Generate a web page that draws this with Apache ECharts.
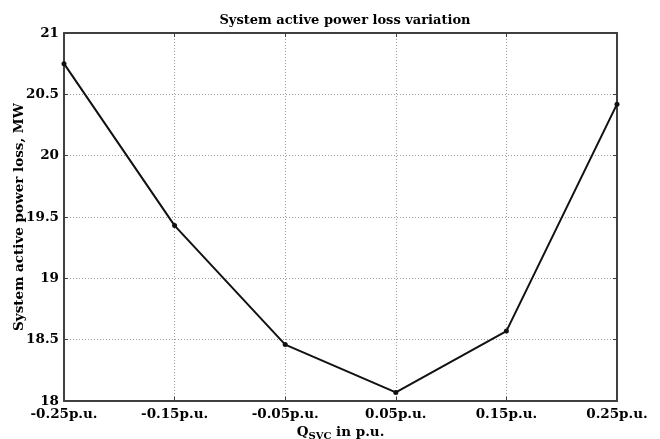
<!DOCTYPE html>
<html>
<head>
<meta charset="utf-8">
<script src="https://cdn.jsdelivr.net/npm/echarts@6/dist/echarts.min.js"></script>
<style>
  html, body { margin: 0; padding: 0; background: #fff; }
  #chart { width: 660px; height: 439px; }
</style>
</head>
<body>
<div id="chart"></div>
<script>
var categories = ['-0.25p.u.', '-0.15p.u.', '-0.05p.u.', '0.05p.u.', '0.15p.u.', '0.25p.u.'];
var lossValues = [20.75, 19.43, 18.46, 18.07, 18.57, 20.42];
var yTicks = [18, 18.5, 19, 19.5, 20, 20.5, 21];

var font = 'DejaVu Serif';
var chart = echarts.init(document.getElementById('chart'));

var gridLine = { show: true, lineStyle: { color: '#9a9a9a', type: [1, 2], width: 1 } };

var option = {
    backgroundColor: '#fff',
    animation: false,
    title: {
        text: 'System active power loss variation',
        left: 340, top: 9, textAlign: 'center',
        textStyle: { fontFamily: font, fontWeight: 'bold', fontSize: 13, color: '#000' }
    },
    grid: { left: 64, right: 43, top: 33, bottom: 38, outerBoundsMode: 'none', containLabel: false },
    xAxis: [{
        type: 'category',
        data: categories,
        boundaryGap: false,
        axisLine: { lineStyle: { color: '#404040', width: 2 } },
        axisTick: { inside: true, length: 4, lineStyle: { color: '#404040' } },
        axisLabel: { fontFamily: font, fontWeight: 'bold', fontSize: 13.5, color: '#000', margin: 6 },
        splitLine: gridLine,
        name: '{q|Q}{s|SVC}{q| in p.u.}',
        nameLocation: 'middle',
        nameGap: 21,
        nameTextStyle: {
            rich: {
                q: { fontFamily: font, fontWeight: 'bold', fontSize: 13.5, color: '#000' },
                s: { fontFamily: font, fontWeight: 'bold', fontSize: 10, color: '#000', verticalAlign: 'bottom', padding: [7, 0, 0, 0] }
            }
        }
    }, {
        type: 'category',
        data: categories,
        position: 'top',
        boundaryGap: false,
        axisLine: { lineStyle: { color: '#404040', width: 2 } },
        axisTick: { inside: true, length: 4, lineStyle: { color: '#404040' } },
        axisLabel: { show: false }
    }],
    yAxis: [{
        type: 'value',
        min: yTicks[0], max: yTicks[yTicks.length - 1], interval: 0.5,
        axisLine: { show: true, lineStyle: { color: '#404040', width: 2 } },
        axisTick: { show: true, inside: true, length: 4, lineStyle: { color: '#404040' } },
        axisLabel: { fontFamily: font, fontWeight: 'bold', fontSize: 13.5, color: '#000', margin: 5 },
        splitLine: gridLine,
        name: 'System active power loss, MW',
        nameLocation: 'middle',
        nameMoveOverlap: false,
        nameGap: 38,
        nameTextStyle: { fontFamily: font, fontWeight: 'bold', fontSize: 13.5, color: '#000' }
    }, {
        type: 'value',
        position: 'right',
        min: yTicks[0], max: yTicks[yTicks.length - 1], interval: 0.5,
        axisLine: { show: true, lineStyle: { color: '#404040', width: 2 } },
        axisTick: { show: true, inside: true, length: 4, lineStyle: { color: '#404040' } },
        axisLabel: { show: false },
        splitLine: { show: false }
    }],
    series: [{
        type: 'line',
        data: lossValues,
        symbol: 'circle',
        symbolSize: 5,
        lineStyle: { color: '#111', width: 2 },
        itemStyle: { color: '#111' }
    }]
};
chart.setOption(option);
</script>
</body>
</html>
